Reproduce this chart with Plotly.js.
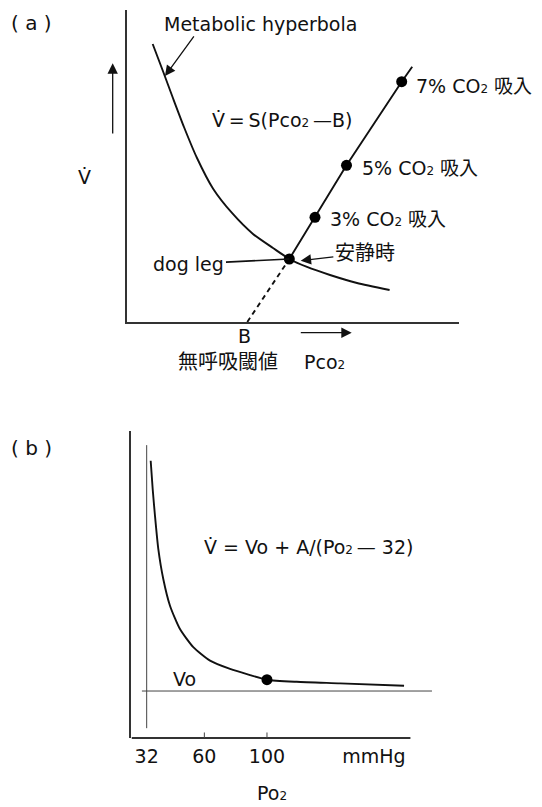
<!DOCTYPE html>
<html>
<head>
<meta charset="utf-8">
<script src="https://cdn.plot.ly/plotly-3.0.1.min.js"></script>
<style>html,body{margin:0;padding:0;background:#fff;}#chart{width:542px;height:807px;}</style>
</head>
<body>
<div id="chart"></div>
<script>
// ---------- Panel (a): CO2 response (schematic units) ----------
const hypX = [7.60, 10.80, 13.82, 17.04, 20.97, 25.88, 31.52, 37.86, 43.89, 48.81, 54.15, 61.09, 69.23, 79.06];
const hypY = [89.10, 80.13, 71.47, 62.50, 52.56, 42.63, 34.94, 28.21, 23.72, 20.19, 17.63, 15.06, 12.50, 10.26];
const apneaB = [36.14, 0];                       // B: apnea threshold
const respX = [48.81, 56.56, 66.06, 82.71];      // rest, 3%, 5%, 7% CO2
const respY = [20.19, 33.56, 50.22, 77.02];
const respEnd = [85.88, 81.83];
const sub2 = '<span style="font-size:12px">2</span>';
const respLabels = ['安静時', '3% CO' + sub2 + ' 吸入', '5% CO' + sub2 + ' 吸入', '7% CO' + sub2 + ' 吸入'];

// ---------- Panel (b): O2 response ----------
const po2X = [34.26, 35.39, 36.69, 38.56, 41.38, 45.17, 50.82, 58.34, 67.82, 79.12, 90.43, 100.0, 116.8, 141.3, 177.5];
const po2Y = [90.3, 81.1, 72.4, 61.6, 51.8, 43.1, 35.5, 29.6, 25.2, 22.5, 20.5, 18.99, 18.3, 17.8, 17.0];
const restPo2 = [100.0, 18.99];
const vo = 15.3;
const asymptoteX = 32;
const tickPosB = [32, 64.6, 100, 160.5];
const tickTextB = ['32', '60', '100', 'mmHg'];
const tickMarkPosB = [64.6, 100];

const INK = '#111';
const FONT = 'DejaVu Sans, Noto Sans CJK JP, sans-serif';

// axis geometry
const domAx = [0.2352, 0.8469], domAy = [0.6010, 0.9876], rngA = [0, 100], rngAy = [0, 100];
const domBx = [0.2426, 0.7970], domBy = [0.0855, 0.4659], rngBx = [23.41, 193.28], rngBy = [0, 100];
const toPaper = (v, dom, rng) => dom[0] + (v - rng[0]) / (rng[1] - rng[0]) * (dom[1] - dom[0]);
const pa = (x, y) => ({xref: 'paper', yref: 'paper', x: toPaper(x, domAx, rngA), y: toPaper(y, domAy, rngAy)});
const pb = (x, y) => ({xref: 'paper', yref: 'paper', x: toPaper(x, domBx, rngBx), y: toPaper(y, domBy, rngBy)});

const traces = [
  {x: hypX, y: hypY, xaxis: 'x', yaxis: 'y', mode: 'lines', line: {color: INK, width: 1.9, shape: 'spline', smoothing: 0.6}, hoverinfo: 'skip'},
  {x: [apneaB[0], respX[0]], y: [apneaB[1], respY[0]], xaxis: 'x', yaxis: 'y', mode: 'lines', line: {color: INK, width: 1.9, dash: '5px,4px'}, hoverinfo: 'skip'},
  {x: respX.concat([respEnd[0]]), y: respY.concat([respEnd[1]]), xaxis: 'x', yaxis: 'y', mode: 'lines', line: {color: INK, width: 1.9}, hoverinfo: 'skip'},
  {x: respX, y: respY, xaxis: 'x', yaxis: 'y', mode: 'markers', marker: {color: '#000', size: 11}, cliponaxis: false, hoverinfo: 'skip'},

  {x: po2X, y: po2Y, xaxis: 'x2', yaxis: 'y2', mode: 'lines', line: {color: INK, width: 1.9, shape: 'spline', smoothing: 0.6}, hoverinfo: 'skip'},
  {x: [29.3, 193.3], y: [vo, vo], xaxis: 'x2', yaxis: 'y2', mode: 'lines', line: {color: '#444', width: 1}, hoverinfo: 'skip'},
  {x: [asymptoteX, asymptoteX], y: [3.2, 95.4], xaxis: 'x2', yaxis: 'y2', mode: 'lines', line: {color: '#444', width: 1}, hoverinfo: 'skip'},
  {x: [restPo2[0]], y: [restPo2[1]], xaxis: 'x2', yaxis: 'y2', mode: 'markers', marker: {color: '#000', size: 11}, hoverinfo: 'skip'}
];

const F = (s) => ({family: FONT, size: s || 19, color: INK});
const txt = (pos, text, opt) => Object.assign(pos, {text: text, showarrow: false, xanchor: 'center', yanchor: 'middle', font: F()}, opt || {});
const arrowD = (x, y, ax, ay, opt) => Object.assign({xref: 'x', yref: 'y', axref: 'x', ayref: 'y', x: x, y: y, ax: ax, ay: ay, text: '', showarrow: true, arrowhead: 2, arrowsize: 1.6, arrowwidth: 1.3, arrowcolor: INK, standoff: 0, startstandoff: 0, font: F()}, opt || {});
const arrowP = (pos, axPx, ayPx) => Object.assign(pos, {text: '', showarrow: true, ax: axPx, ay: ayPx, axref: 'pixel', ayref: 'pixel', arrowhead: 2, arrowsize: 1.6, arrowwidth: 1.3, arrowcolor: INK, standoff: 0, startstandoff: 0});

const annotations = [
  // panel (a)
  txt({xref: 'paper', yref: 'paper', x: 0.0585, y: 0.9711}, '( a )', {font: F(20)}),
  txt(pa(40.0, 95.5), 'Metabolic hyperbola'),
  arrowD(11.31, 78.85, 20.36, 92.0),
  txt(pa(24.9, 64.7), 'V̇\u2009=\u2009S(Pco' + sub2 + '\u2009—B)', {xanchor: 'left'}),
  txt(pa(86.4, 75.6), respLabels[3], {xanchor: 'left'}),
  txt(pa(70.1, 49.3), respLabels[2], {xanchor: 'left'}),
  txt(pa(60.6, 32.9), respLabels[1], {xanchor: 'left'}),
  arrowD(52.25, 19.65, 71.6, 22.1, {text: respLabels[0], font: F(20)}),
  arrowD(respX[0], respY[0], 18.55, 18.6, {text: 'dog leg', arrowhead: 0, arrowwidth: 1.6}),
  txt(pa(-13.1, 46.6), 'V̇'),
  arrowP(pa(-4.46, 82.9), 0, 71.7),
  txt(pa(35.4, -4.49), 'B'),
  arrowP(pa(67.63, -3.43), -52.4, 0),
  txt(pa(30.2, -12.7), '無呼吸閾値', {font: F(20)}),
  txt(pa(59.3, -12.7), 'Pco' + sub2),
  // panel (b)
  txt({xref: 'paper', yref: 'paper', x: 0.059, y: 0.4445}, '( b )', {font: F(20)}),
  txt(pb(63.1, 62.3), 'V̇ = Vo + A/(Po' + sub2 + '\u2009— 32)', {xanchor: 'left'}),
  txt(pb(53.65, 19.1), 'Vo'),
  txt(pb(102.7, -17.9), 'Po' + sub2)
];

const shapes = [
  {type: 'line', xref: 'x2', yref: 'y2 domain', x0: rngBx[0], x1: 181.1, y0: 0, y1: 0, line: {color: '#333', width: 2}}
].concat(tickMarkPosB.map(v => ({type: 'line', xref: 'x2', yref: 'y2 domain', x0: v, x1: v, y0: 0, y1: 0.018, line: {color: '#444', width: 1}})));

const hiddenAxis = {showgrid: false, zeroline: false, ticks: '', showticklabels: false, fixedrange: true};
const layout = {
  width: 542, height: 807,
  margin: {l: 0, r: 0, t: 0, b: 0},
  paper_bgcolor: '#fff', plot_bgcolor: 'rgba(0,0,0,0)',
  showlegend: false,
  font: F(),
  xaxis: Object.assign({}, hiddenAxis, {domain: domAx, range: rngA, showline: true, linecolor: '#333', linewidth: 2, anchor: 'y'}),
  yaxis: Object.assign({}, hiddenAxis, {domain: domAy, range: rngAy, showline: true, linecolor: '#333', linewidth: 2, anchor: 'x'}),
  xaxis2: Object.assign({}, hiddenAxis, {domain: domBx, range: rngBx, showline: false, anchor: 'y2',
    showticklabels: true, tickmode: 'array', tickvals: tickPosB, ticktext: tickTextB, ticklabelstandoff: 5,
    tickfont: F()}),
  yaxis2: Object.assign({}, hiddenAxis, {domain: domBy, range: rngBy, showline: true, linecolor: '#333', linewidth: 2, anchor: 'x2'}),
  annotations: annotations,
  shapes: shapes
};

Plotly.newPlot('chart', traces, layout, {staticPlot: true, displayModeBar: false});
</script>
</body>
</html>
